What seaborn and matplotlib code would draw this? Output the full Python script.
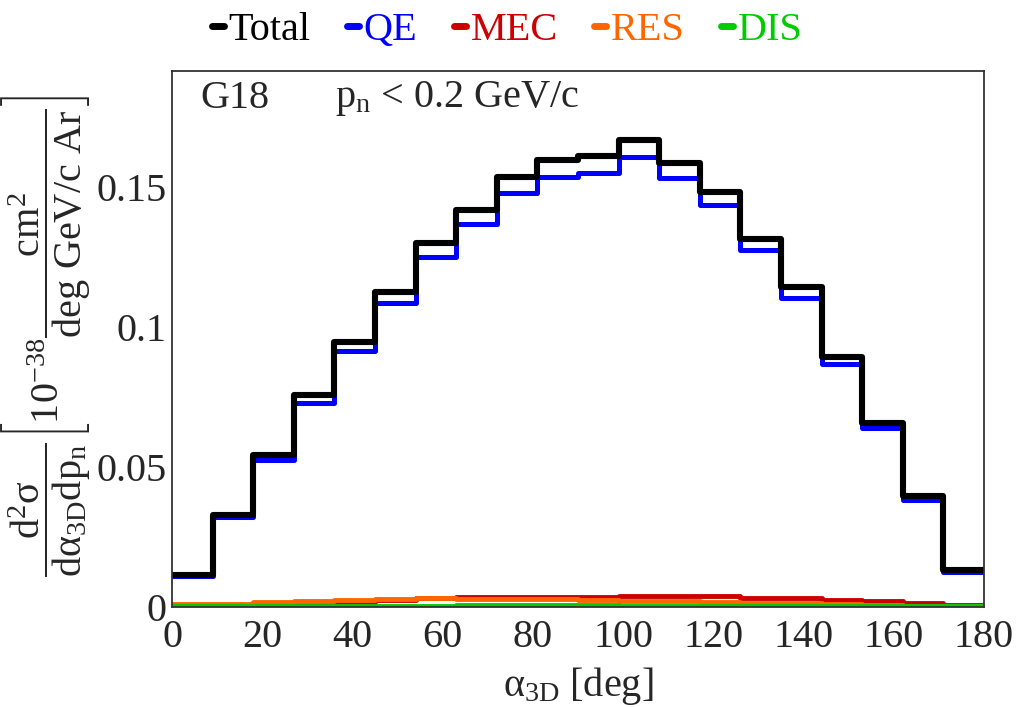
import numpy as np
import seaborn as sns
import matplotlib.pyplot as plt
from matplotlib.lines import Line2D

# bins of alpha_3D (deg)
bin_edges = [0, 9, 18, 27, 36, 45, 54, 63, 72, 81, 90, 99, 108, 117, 126, 135, 144, 153, 162, 171, 180]

total = [0.0112, 0.0327, 0.0542, 0.0756, 0.0946, 0.1125, 0.1298, 0.1417, 0.1536, 0.1595,
         0.1610, 0.1667, 0.1586, 0.1482, 0.1313, 0.1143, 0.0893, 0.0655, 0.0395, 0.0131]
qe = [0.0108, 0.0319, 0.0524, 0.0729, 0.0913, 0.1083, 0.1250, 0.1366, 0.1476, 0.1536,
      0.1548, 0.1607, 0.1530, 0.1435, 0.1274, 0.1104, 0.0866, 0.0637, 0.0381, 0.0125]
mec = [0.0003, 0.0006, 0.0010, 0.0014, 0.0018, 0.0023, 0.0030, 0.0033, 0.0036, 0.0036,
       0.0036, 0.0038, 0.0038, 0.0037, 0.0032, 0.0030, 0.0025, 0.0019, 0.0013, 0.0006]
res = [0.0008, 0.0011, 0.0015, 0.0020, 0.0024, 0.0027, 0.0030, 0.0028, 0.0027, 0.0026,
       0.0025, 0.0022, 0.0020, 0.0018, 0.0014, 0.0013, 0.0010, 0.0006, 0.0003, 0.0001]
dis = [0.0001, 0.0002, 0.0002, 0.0003, 0.0003, 0.0004, 0.0004, 0.0005, 0.0005, 0.0005,
       0.0005, 0.0004, 0.0004, 0.0004, 0.0003, 0.0003, 0.0002, 0.0002, 0.0001, 0.0001]

labels = ['Total', 'QE', 'MEC', 'RES', 'DIS']
colors = ['#000000', '#0000ff', '#cc0000', '#ff6600', '#00cc00']

xticks = [0, 20, 40, 60, 80, 100, 120, 140, 160, 180]
yticks = [0, 0.05, 0.1, 0.15]
ytick_labels = ['0', '0.05', '0.1', '0.15']

sns.set_style('white')
plt.rcParams['font.family'] = ['Liberation Serif', 'DejaVu Serif']
plt.rcParams['mathtext.fontset'] = 'custom'
plt.rcParams['mathtext.rm'] = 'Liberation Serif'
plt.rcParams['mathtext.it'] = 'Liberation Serif'
plt.rcParams['mathtext.bf'] = 'Liberation Serif:bold'

fs = 29

fig = plt.figure(figsize=(10.21, 7.07), dpi=100)
ax = fig.add_axes([0.1685, 0.1419, 0.9638 - 0.1685, 0.8996 - 0.1419])

centers = (np.array(bin_edges[:-1]) + np.array(bin_edges[1:])) / 2
series = [(qe, colors[1], 3.6), (mec, colors[2], 3.5), (res, colors[3], 3.5),
          (dis, colors[4], 3.5), (total, colors[0], 4.4)]
for vals, c, lw in series:
    sns.histplot(x=centers, weights=vals, bins=bin_edges, element='step', fill=False,
                 color=c, linewidth=lw, ax=ax)

ax.set_xlim(0, 180)
ax.set_ylim(0, 0.1913)
ax.set_xticks(xticks)
ax.set_xticklabels([str(t) for t in xticks])
ax.set_yticks(yticks)
ax.set_yticklabels(ytick_labels)
ax.tick_params(axis='both', direction='in', labelsize=fs, width=1.2, color='black')
ax.tick_params(axis='x', length=12, pad=9)
ax.tick_params(axis='y', length=15, pad=4)
ax.set_ylabel('')
for s in ax.spines.values():
    s.set_linewidth(1.3)
    s.set_color('#333333')

ax.set_xlabel(r'$\alpha_{3D}$ [deg]', fontsize=fs, labelpad=6)

ax.text(6.2, 0.1815, 'G18', fontsize=fs, va='center')
ax.text(36.1, 0.1815, r'$\mathrm{p_{n}}$ < 0.2 GeV/c', fontsize=fs, va='center')

fig.text(0.045, 0.525,
         r'$\dfrac{\mathrm{d^{2}\sigma}}{\mathrm{d\alpha_{3D}dp_{n}}}'
         r'\left[10^{-38}\dfrac{\mathrm{cm^{2}}}{\mathrm{deg\ GeV/c\ Ar}}\right]$',
         rotation=90, fontsize=fs, ha='center', va='center')

handles = [Line2D([], [], color=c, linewidth=5) for c in colors]
fig.legend(handles, labels, loc='upper center', bbox_to_anchor=(0.497, 1.035), ncol=5,
           frameon=False, fontsize=fs, handlelength=0.3, handletextpad=0.12,
           columnspacing=0.9, labelcolor='linecolor')

fig.savefig('out.png', dpi=100)
